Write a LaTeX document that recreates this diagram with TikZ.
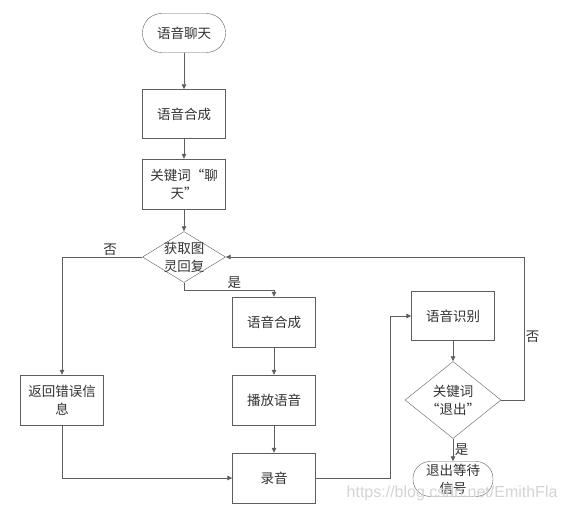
\documentclass[tikz,border=0pt]{standalone}
\usepackage{fontspec}
\setmainfont{Noto Sans CJK SC}
\newfontfamily\markfont{Liberation Sans}
\usetikzlibrary{shapes.geometric,arrows.meta}

\definecolor{linegray}{HTML}{5E5E5E}
\definecolor{textgray}{HTML}{333333}
\definecolor{markgray}{HTML}{D4D4D4}

\tikzset{
    base/.style={draw=linegray, fill=white, text=textgray, align=center,
        inner sep=0pt, font=\fontsize{13.5}{18}\selectfont},
    box/.style={base, rectangle, minimum width=83pt, minimum height=49pt},
    term/.style={base, rectangle, rounded corners=17pt, minimum width=#1, minimum height=37pt},
    decision/.style={base, diamond},
    flow/.style={draw=linegray, line width=0.8pt, -{Triangle[length=5pt,width=4.5pt]}},
    tag/.style={text=textgray, font=\fontsize{13.5}{18}\selectfont, inner sep=1.5pt}
}

\begin{document}
\begin{tikzpicture}[x=1pt, y=-1pt]
    \useasboundingbox (0,0) rectangle (565,511);

    % Coluna da esquerda
    \node[term=83pt, minimum height=39pt, rounded corners=19pt] (start) at (184,33) {语音聊天};
    \node[box] (synth) at (184,114) {语音合成};
    \node[box, minimum height=50pt] (key) at (184,184) {关键词“聊\\天”};
    \node[decision, minimum width=83pt, minimum height=51pt,
        label={[tag, align=center]center:获取图\\灵回复}] (reply) at (184,257) {};
    \node[box, minimum height=50pt] (error) at (62,400) {返回错误信\\息};

    % Coluna do meio
    \node[box, minimum height=50pt] (synth2) at (274,322) {语音合成};
    \node[box, minimum height=50pt] (play) at (274,400) {播放语音};
    \node[box, minimum height=50pt] (record) at (274,478) {录音};

    % Coluna da direita
    \node[box] (recog) at (453,316) {语音识别};
    \node[decision, minimum width=96pt, minimum height=77pt,
        label={[tag, align=center]center:关键词\\“退出”}] (quit) at (453,400) {};
    \node[term=80pt, minimum height=35pt] (exit) at (453,479) {退出等待\\信号};

    % Pontos de dobra
    \coordinate (yesbend) at (184,290);
    \coordinate (recbend) at (390,478);
    \coordinate (nobend) at (524,400);

    % Setas
    \draw[flow] (start) -- (synth);
    \draw[flow] (synth) -- (key);
    \draw[flow] (key) -- (reply);
    \draw[flow] (reply.west) -| (error.north) node[tag, pos=0.2, above] {否};
    \draw[flow] (reply.south) -- (yesbend) -| (synth2.north) node[tag, pos=0.28, above] {是};
    \draw[flow] (synth2) -- (play);
    \draw[flow] (play) -- (record);
    \draw[flow] (error.south) |- (record.west);
    \draw[flow] (record.east) -- (recbend) |- (recog.west);
    \draw[flow] (recog) -- (quit);
    \draw[flow] (quit.south) -- (exit.north) node[tag, midway, right] {是};
    \draw[flow] (quit.east) -- (nobend) |- (reply.east) node[tag, pos=0.22, right] {否};

    % Marca d'agua
    \node[text=markgray, font=\markfont\fontsize{16}{16}\selectfont, anchor=east] (mark) at (561,493) {https://blog.csdn.net/EmithFla};
\end{tikzpicture}
\end{document}
